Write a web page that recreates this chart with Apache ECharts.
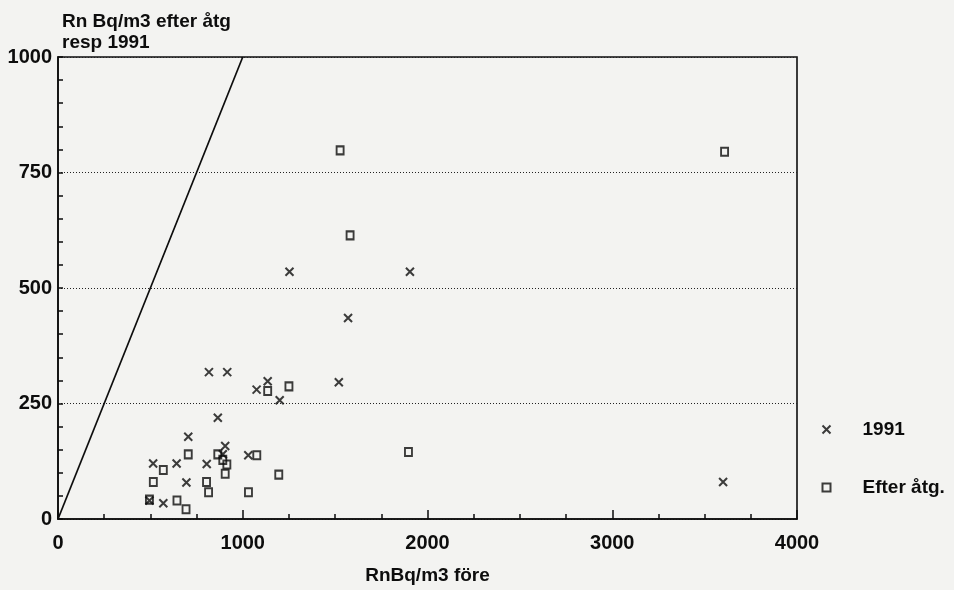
<!DOCTYPE html>
<html>
<head>
<meta charset="utf-8">
<script src="https://cdn.jsdelivr.net/npm/echarts@6/dist/echarts.min.js"></script>
<style>
  html, body { margin: 0; padding: 0; background: #f3f3f1; }
  #chart { width: 954px; height: 590px; }
</style>
</head>
<body>
<div id="chart"></div>
<script>
// Radon levels (Bq/m3) before remediation vs. after remediation / in 1991
const before1991 = [1075, 1135, 1200, 1520, 865, 705, 905, 892, 515, 642, 805, 1030, 695, 495, 570, 817, 916, 1253, 1570, 1905, 3600];
const level1991  = [280, 298, 257, 296, 219, 178, 158, 140, 120, 120, 119, 138, 79, 40, 34, 318, 318, 535, 435, 535, 80];

const beforeAfter = [1135, 1250, 705, 865, 892, 914, 905, 570, 516, 804, 815, 1031, 1076, 1195, 495, 644, 693, 1897, 1527, 1581, 3608];
const levelAfter  = [277, 287, 140, 140, 128, 118, 98, 106, 80, 80, 58, 58, 138, 96, 42, 40, 21, 145, 798, 614, 795];

// y = x reference line
const refLineX = [0, 1000];
const refLineY = [0, 1000];

const xTicks = [0, 1000, 2000, 3000, 4000];
const yTicks = [0, 250, 500, 750, 1000];

const seriesNames = ['1991', 'Efter åtg.'];

const ink = '#0d0d0d';
const font = 'Liberation Sans, Arial, sans-serif';
const crossPath = 'path://M0,0L10,10M10,0L0,10';

const zip = (a, b) => a.map((v, i) => [v, b[i]]);
const plain = v => String(v);

const chart = echarts.init(document.getElementById('chart'), null, { renderer: 'canvas' });

chart.setOption({
  backgroundColor: '#f3f3f1',
  animation: false,
  title: {
    text: 'Rn Bq/m3 efter åtg\nresp 1991',
    left: 57,
    top: 6,
    textStyle: { fontFamily: font, fontWeight: 'bold', fontSize: 19, color: ink, lineHeight: 21 }
  },
  legend: {
    orient: 'vertical',
    left: 815,
    top: 415,
    itemGap: 39,
    itemWidth: 8,
    itemHeight: 8,
    textStyle: { fontFamily: font, fontWeight: 'bold', fontSize: 19, color: ink, padding: [0, 0, 0, 27] },
    data: [
      { name: seriesNames[0], icon: crossPath },
      { name: seriesNames[1], icon: 'rect' }
    ]
  },
  grid: {
    left: 58, right: 157, top: 57, bottom: 69,
    show: true,
    borderColor: ink,
    borderWidth: 1.6,
    backgroundColor: 'transparent'
  },
  xAxis: {
    type: 'value',
    min: xTicks[0],
    max: xTicks[xTicks.length - 1],
    interval: 1000,
    name: 'RnBq/m3 före',
    nameLocation: 'middle',
    nameGap: 47,
    nameTextStyle: { fontFamily: font, fontWeight: 'bold', fontSize: 19, color: ink },
    axisLine: { show: true, lineStyle: { color: ink, width: 1.6 } },
    axisTick: { show: true, inside: true, length: 9, lineStyle: { color: ink, width: 1.5 } },
    minorTick: { show: true, splitNumber: 4, length: 5, lineStyle: { color: ink, width: 1.5 } },
    axisLabel: { fontFamily: font, fontWeight: 'bold', fontSize: 20, color: ink, margin: 14, formatter: plain },
    splitLine: { show: false }
  },
  yAxis: {
    type: 'value',
    min: yTicks[0],
    max: yTicks[yTicks.length - 1],
    interval: 250,
    axisLine: { show: true, lineStyle: { color: ink, width: 1.6 } },
    axisTick: { show: true, inside: true, length: 5, lineStyle: { color: ink, width: 1.5 } },
    minorTick: { show: true, splitNumber: 5, length: 5, lineStyle: { color: ink, width: 1.5 } },
    axisLabel: { fontFamily: font, fontWeight: 'bold', fontSize: 20, color: ink, margin: 6, formatter: plain },
    splitLine: { show: true, lineStyle: { color: '#222222', width: 1, type: [1, 2] } }
  },
  series: [
    {
      type: 'line',
      data: zip(refLineX, refLineY),
      showSymbol: false,
      symbol: 'none',
      silent: true,
      lineStyle: { color: ink, width: 1.7 },
      z: 2
    },
    {
      name: seriesNames[0],
      type: 'scatter',
      data: zip(before1991, level1991),
      symbol: crossPath,
      symbolSize: 8,
      itemStyle: { color: 'none', borderColor: ink, borderWidth: 2 },
      z: 3
    },
    {
      name: seriesNames[1],
      type: 'scatter',
      data: zip(beforeAfter, levelAfter),
      symbol: 'rect',
      symbolSize: [7, 8],
      itemStyle: { color: 'none', borderColor: ink, borderWidth: 2 },
      z: 3
    }
  ]
});
</script>
</body>
</html>
